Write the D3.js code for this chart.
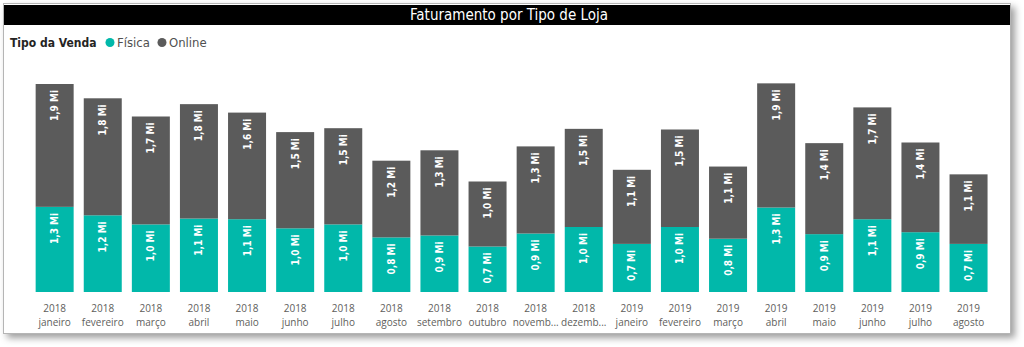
<!DOCTYPE html>
<html>
<head>
<meta charset="utf-8">
<script src="https://cdn.jsdelivr.net/npm/d3@7"></script>
<style>
  html, body { margin: 0; padding: 0; background: #fff; }
  svg { display: block; }
</style>
</head>
<body>
<div id="chart"></div>
<script>
// Faturamento (milhões) por mês
const anos = ["2018","2018","2018","2018","2018","2018","2018","2018","2018","2018","2018","2018",
              "2019","2019","2019","2019","2019","2019","2019","2019"];
const meses = ["janeiro","fevereiro","março","abril","maio","junho","julho","agosto","setembro","outubro","novembro","dezembro",
               "janeiro","fevereiro","março","abril","maio","junho","julho","agosto"];
const fisica = [1.31, 1.18, 1.04, 1.13, 1.12, 0.98, 1.04, 0.84, 0.87, 0.70, 0.90, 1.00,
                0.74, 1.00, 0.82, 1.30, 0.89, 1.12, 0.92, 0.74];
const online = [1.89, 1.80, 1.66, 1.76, 1.64, 1.48, 1.48, 1.18, 1.31, 1.00, 1.34, 1.51,
                1.14, 1.50, 1.11, 1.91, 1.40, 1.72, 1.38, 1.07];
const series = ["Física", "Online"];
const cores = ["#01B8AA", "#5B5B5B"];
const yMax = 3.2;

const W = 1024, H = 347;
const plot = { left: 30.6, right: 992.6, top: 84, bottom: 292 };

const svg = d3.select("#chart")
  .append("svg")
  .attr("width", W)
  .attr("height", H);

// sombra do cartão
const defs = svg.append("defs");
const f = defs.append("filter").attr("id", "sombra")
  .attr("x", "-5%").attr("y", "-5%").attr("width", "110%").attr("height", "115%");
f.append("feDropShadow")
  .attr("dx", 4).attr("dy", 4).attr("stdDeviation", 3.5)
  .attr("flood-color", "#000").attr("flood-opacity", 0.38);

svg.append("rect")
  .attr("x", 3.5).attr("y", 3.5)
  .attr("width", 1007).attr("height", 330)
  .attr("fill", "#fff")
  .attr("stroke", "#b5b5b5")
  .attr("filter", "url(#sombra)");

// barra do título
svg.append("rect")
  .attr("x", 4).attr("y", 5)
  .attr("width", 1006).attr("height", 20)
  .attr("fill", "#000");
svg.append("text")
  .attr("x", 509).attr("y", 15)
  .attr("text-anchor", "middle")
  .attr("dominant-baseline", "central")
  .style("font-family", "'DejaVu Sans Condensed', 'DejaVu Sans', sans-serif")
  .style("font-size", "15px")
  .attr("fill", "#fff")
  .text("Faturamento por Tipo de Loja");

// legenda
const leg = svg.append("g")
  .style("font-family", "'DejaVu Sans Condensed', 'DejaVu Sans', sans-serif")
  .style("font-size", "13px");
leg.append("text")
  .attr("x", 10).attr("y", 47)
  .style("font-weight", "bold")
  .style("font-size", "12px")
  .attr("fill", "#252423")
  .text("Tipo da Venda");
const legX = [110, 162];
series.forEach((s, i) => {
  leg.append("circle")
    .attr("cx", legX[i]).attr("cy", 42.5).attr("r", 4.5)
    .attr("fill", cores[i]);
  leg.append("text")
    .attr("x", legX[i] + 7).attr("y", 47)
    .attr("fill", "#505050")
    .text(s);
});

// escalas
const idx = d3.range(anos.length);
const x = d3.scaleBand()
  .domain(idx)
  .range([plot.left, plot.right])
  .paddingInner(0.21)
  .paddingOuter(0.105);

const y = d3.scaleLinear()
  .domain([0, yMax])
  .range([plot.bottom, plot.top]);

const color = d3.scaleOrdinal().domain(series).range(cores);

const dados = idx.map(i => ({ i: i, "Física": fisica[i], "Online": online[i] }));
const stacked = d3.stack().keys(series)(dados);

const pt = d3.formatLocale({ decimal: ",", thousands: ".", grouping: [3], currency: ["R$", ""] });
const fmt = v => pt.format(".1f")(v) + " Mi";

// barras
const grupos = svg.append("g")
  .selectAll("g")
  .data(stacked)
  .join("g")
  .attr("fill", d => color(d.key));

grupos.selectAll("rect")
  .data(d => d)
  .join("rect")
  .attr("x", d => x(d.data.i))
  .attr("y", d => y(d[1]))
  .attr("width", x.bandwidth())
  .attr("height", d => y(d[0]) - y(d[1]));

// rótulos de valor
svg.append("g")
  .selectAll("g")
  .data(stacked)
  .join("g")
  .selectAll("text")
  .data(d => d.map(p => ({ p: p, key: d.key })))
  .join("text")
  .attr("transform", d => `translate(${x(d.p.data.i) + x.bandwidth() / 2},${y(d.p[1]) + 6}) rotate(-90)`)
  .attr("text-anchor", "end")
  .attr("dominant-baseline", "central")
  .style("font-family", "'DejaVu Sans Condensed', 'DejaVu Sans', sans-serif")
  .style("font-size", "10px")
  .style("font-weight", "bold")
  .attr("fill", "#fff")
  .text(d => fmt(d.p.data[d.key]));

// eixo x (ano / mês)
const xAxis = svg.append("g")
  .style("font-family", "'Segoe UI', 'Open Sans', sans-serif")
  .style("font-size", "10px")
  .attr("fill", "#605E5C");

const ticks = xAxis.selectAll("g")
  .data(idx)
  .join("g")
  .attr("transform", i => `translate(${x(i) + x.bandwidth() / 2},0)`);

ticks.append("text")
  .attr("y", 312)
  .attr("text-anchor", "middle")
  .text(i => anos[i]);

ticks.append("text")
  .attr("y", 326)
  .attr("text-anchor", "middle")
  .text(i => meses[i])
  .each(function () {
    // corta o rótulo que não cabe na faixa
    const el = d3.select(this);
    let t = el.text();
    if (this.getComputedTextLength() > x.step() - 2) {
      while (t.length > 1) {
        t = t.slice(0, -1);
        el.text(t + "...");
        if (this.getComputedTextLength() <= x.step()) break;
      }
    }
  });
</script>
</body>
</html>
